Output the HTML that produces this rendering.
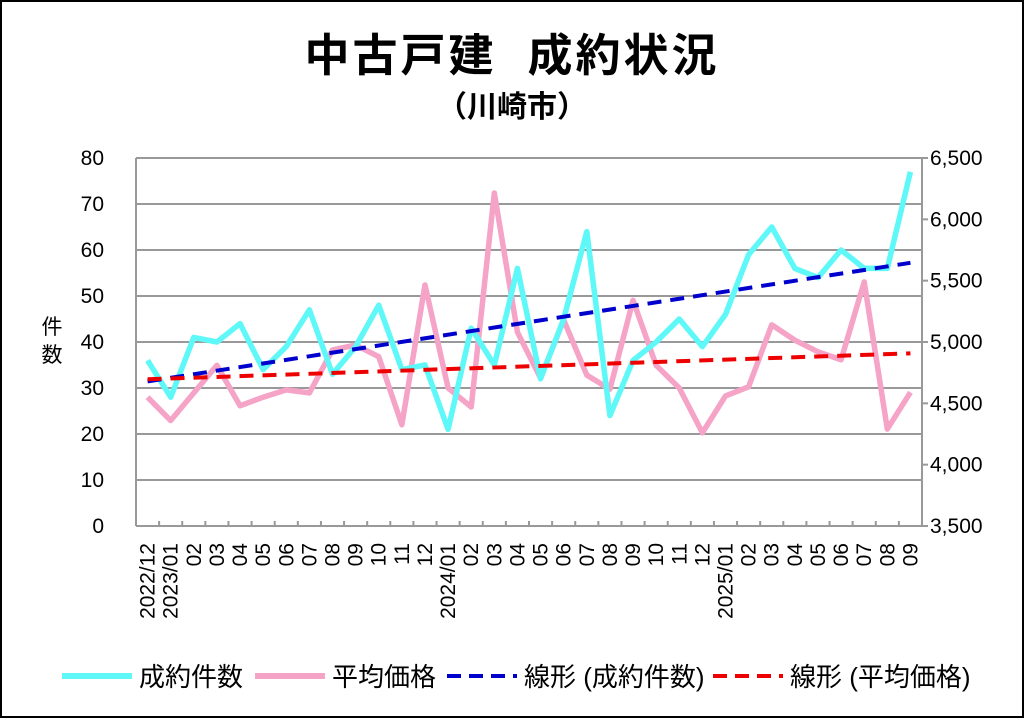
<!DOCTYPE html>
<html><head><meta charset="utf-8">
<style>
html,body{margin:0;padding:0;background:#fff}
#wrap{position:relative;width:1024px;height:718px;overflow:hidden}
svg{position:absolute;left:0;top:0}
text{font-family:"Liberation Sans","Noto Sans CJK JP",sans-serif;fill:#000;white-space:pre}
</style></head>
<body>
<div id="wrap">
<svg id="chart" width="1024" height="718">
<rect x="1" y="1" width="1022" height="716" fill="#fff" stroke="#000" stroke-width="2"/>
<text x="512" y="71" font-size="45" font-weight="bold" letter-spacing="3" text-anchor="middle">中古戸建&#160;&#160;成約状況</text>
<text x="512" y="117" font-size="30" font-weight="bold" text-anchor="middle">（川崎市）</text>
<text x="52" y="334" font-size="21" text-anchor="middle">件</text>
<text x="52" y="362" font-size="21" text-anchor="middle">数</text>
<g id="grid"></g>
<g id="axes"></g>
<g id="series"></g>
<g id="legend"></g>
</svg>
</div>
<script>
const categories=["2022/12","2023/01","02","03","04","05","06","07","08","09","10","11","12","2024/01","02","03","04","05","06","07","08","09","10","11","12","2025/01","02","03","04","05","06","07","08","09"];
const counts=[36,28,41,40,44,34,39,47,33,39,48,34,35,21,43,35,56,32,45,64,24,36,40,45,39,46,59,65,56,54,60,56,56,77];
const prices=[4550,4360,4585,4810,4480,4550,4610,4585,4935,4975,4880,4325,5465,4625,4470,6215,5080,4705,5180,4730,4615,5340,4810,4625,4260,4560,4635,5140,5015,4920,4855,5490,4290,4590];
const leftTicks=[0,10,20,30,40,50,60,70,80];
const rightTicks=[3500,4000,4500,5000,5500,6000,6500];

const NS="http://www.w3.org/2000/svg";
const X0=136,X1=922,Y0=526,Y1=158;
const n=categories.length, cw=(X1-X0)/n;
function xs(i){return X0+cw*(i+0.5);}
function yl(v){return Y0-(v-0)/(80-0)*(Y0-Y1);}
function yr(v){return Y0-(v-3500)/(6500-3500)*(Y0-Y1);}
function mk(tag,attrs,parent){const e=document.createElementNS(NS,tag);for(const k in attrs)e.setAttribute(k,attrs[k]);parent.appendChild(e);return e;}
const grid=document.getElementById('grid'),axes=document.getElementById('axes'),ser=document.getElementById('series'),leg=document.getElementById('legend');

leftTicks.forEach(v=>{
  const l=mk('line',{x1:X0,x2:X1,y1:yl(v),y2:yl(v),stroke:'#999','stroke-width':2},grid);
  
  
  const t=mk('text',{x:104,y:yl(v)+7,'font-size':21,'text-anchor':'end'},axes);
  t.textContent=v;
  
  
});
rightTicks.forEach(v=>{
  const l=mk('line',{x1:X1,x2:X1+6,y1:yr(v),y2:yr(v),stroke:'#999','stroke-width':2},axes);
  
  
  const t=mk('text',{x:930,y:yr(v)+7,'font-size':21},axes);
  t.textContent=v.toLocaleString('en-US');
  
  
});
let a=mk('line',{x1:X0,x2:X0,y1:Y1,y2:Y0,stroke:'#999','stroke-width':2},axes);


a=mk('line',{x1:X1,x2:X1,y1:Y1,y2:Y0,stroke:'#999','stroke-width':2},axes);


for(let i=0;i<=n;i++){
  const x=X0+cw*i;
  const t=mk('line',{x1:x,x2:x,y1:Y0-5,y2:Y0,stroke:'#999','stroke-width':2},axes);
  
  
}
categories.forEach((c,i)=>{
  const x=xs(i)+7,y=543;
  const t=mk('text',{x:x,y:y,'font-size':21,'text-anchor':'end',transform:`rotate(-90 ${x} ${y})`},axes);
  t.textContent=c;
  
  
});

function reg(arr){const m=arr.length;let sx=0,sy=0,sxy=0,sxx=0;arr.forEach((v,i)=>{sx+=i;sy+=v;sxy+=i*v;sxx+=i*i;});const b=(m*sxy-sx*sy)/(m*sxx-sx*sx);return [(sy-b*sx)/m,b];}
function poly(arr,ys,color,name){
  const p=mk('polyline',{points:arr.map((v,i)=>xs(i)+','+ys(v)).join(' '),fill:'none',stroke:color,'stroke-width':5.5,'stroke-linejoin':'round'},ser);
  
  
}
function trend(arr,ys,color,name){
  const [a0,b]=reg(arr);const m=arr.length-1;
  const l=mk('line',{x1:xs(0),y1:ys(a0),x2:xs(m),y2:ys(a0+b*m),stroke:color,'stroke-width':4,'stroke-dasharray':'14 9'},ser);
  
  
}
poly(prices,yr,'#f5a3c7','price-line');
poly(counts,yl,'#5ff8f8','count-line');
trend(counts,yl,'#0000cc','count-trendline');
trend(prices,yr,'#ee0000','price-trendline');

const items=[["成約件数",'#5ff8f8',false,62],["平均価格",'#f5a3c7',false,255],["線形 (成約件数)",'#0000cc',true,447],["線形 (平均価格)",'#ee0000',true,713]];
items.forEach(it=>{
  const g=mk('g',{},leg);
  
  
  const ln=mk('line',{x1:it[3],x2:it[3]+70,y1:676,y2:676,stroke:it[1],'stroke-width':it[2]?4:6},g);
  if(it[2])ln.setAttribute('stroke-dasharray','14 8');
  
  
  const t=mk('text',{x:it[3]+77,y:686,'font-size':26},g);
  t.textContent=it[0];
  
  
});
</script>
</body></html>
